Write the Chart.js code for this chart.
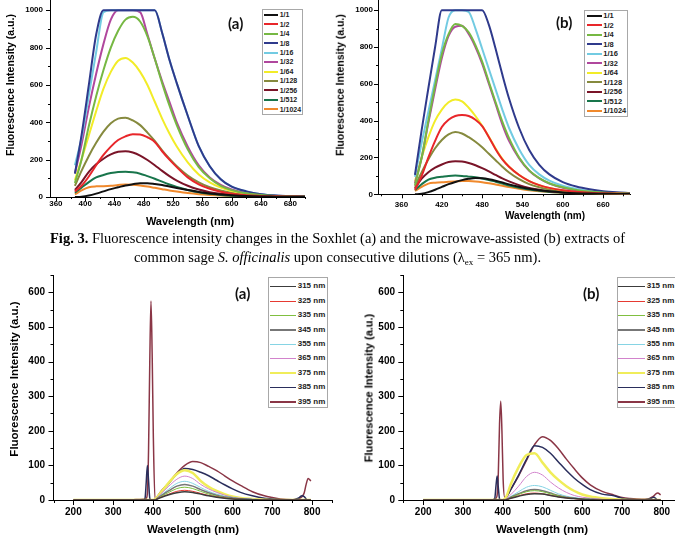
<!DOCTYPE html>
<html>
<head>
<meta charset="utf-8">
<script src="https://cdn.jsdelivr.net/npm/chart.js@4/dist/chart.umd.min.js"></script>
<style>
    html, body { margin: 0; padding: 0; background: #fff; }
    body { position: relative; width: 675px; height: 536px; overflow: hidden; font-family: 'Liberation Sans', Arial, sans-serif; }
    canvas, .legend, .panel, .caption, .axis-title { position: absolute; }
    .legend { border: 1px solid #a8a8a8; background: #fff; box-sizing: border-box; font-weight: bold; color: #222; overflow: hidden; }
    .legend .row { position: absolute; left: 0; white-space: nowrap; }
    .legend .swatch { position: absolute; }
    .legend .txt { position: absolute; top: 0; }
    .panel { font-family: Lato, 'Liberation Sans', sans-serif; font-weight: bold; font-size: 15px; line-height: 18px; color: #111; }
    .axis-title { font-weight: bold; color: #000; white-space: nowrap; line-height: 1; transform: translate(-50%, -50%); }
    .axis-title.vertical { transform: translate(-50%, -50%) rotate(-90deg); }
    .caption { left: 0; width: 675px; text-align: center; font-family: 'Liberation Serif', 'Times New Roman', serif; font-size: 14.5px; line-height: 19px; color: #000; }
    .caption sub { font-size: 9px; line-height: 0; vertical-align: -3px; }
</style>
</head>
<body>
<canvas id="chartSoxhlet" width="310" height="230" style="left:0;top:0"></canvas>
<canvas id="chartMicrowave" width="305" height="230" style="left:330px;top:0"></canvas>
<canvas id="chartSoxEx" width="340" height="270" style="left:0;top:270px"></canvas>
<canvas id="chartMwEx" width="340" height="270" style="left:350px;top:270px"></canvas>

<div class="legend" id="legendSoxhlet"></div>
<div class="legend" id="legendMicrowave"></div>
<div class="legend" id="legendSoxEx"></div>
<div class="legend" id="legendMwEx"></div>

<div class="panel" style="left:228px;top:14px">(a)</div>
<div class="panel" style="left:556px;top:13px">(b)</div>
<div class="panel" style="left:235px;top:284px">(a)</div>
<div class="panel" style="left:583px;top:284px">(b)</div>

<div class="axis-title" style="left:190px;top:221px;font-size:11px">Wavelength (nm)</div>
<div class="axis-title" style="left:545px;top:216px;font-size:10px">Wavelength (nm)</div>
<div class="axis-title vertical" style="left:10px;top:85px;font-size:10.5px">Fluorescence Intensity (a.u.)</div>
<div class="axis-title vertical" style="left:340px;top:85px;font-size:10.5px">Fluorescence Intensity (a.u.)</div>
<div class="axis-title" style="left:193px;top:530px;font-size:11.5px">Wavelength (nm)</div>
<div class="axis-title" style="left:542px;top:530px;font-size:11.5px">Wavelength (nm)</div>
<div class="axis-title vertical" style="left:15px;top:379px;font-size:11.5px">Fluorescence Intensity (a.u.)</div>
<div class="axis-title vertical" style="left:369px;top:388px;font-size:11px">Fluorescence Intensity (a.u.)</div>

<div class="caption" style="top:229px"><b>Fig. 3.</b> Fluorescence intensity changes in the Soxhlet (a) and the microwave-assisted (b) extracts of<br>common sage <i>S. officinalis</i> upon consecutive dilutions (&lambda;<sub>ex</sub> = 365 nm).</div>

<script>
// --- dilution series (top row) ---
const dilutionLabels = ['1/1', '1/2', '1/4', '1/8', '1/16', '1/32', '1/64', '1/128', '1/256', '1/512', '1/1024'];

const soxhletWavelength = [386, 395, 405, 415, 425, 435, 445, 455, 465, 475, 485, 495, 505, 515, 525, 540, 555, 570, 585, 600, 620, 640, 660, 680, 700];
const soxhlet1_1 = [0, 2, 8, 18, 30, 42, 52, 62, 68, 74, 74, 70, 64, 56, 48, 37, 27, 19, 13, 9, 5, 3, 2, 1, 1];
const soxhlet1_2 = [30, 60, 110, 170, 225, 270, 305, 325, 336, 335, 320, 295, 245, 200, 160, 105, 68, 44, 28, 18, 10, 6, 4, 3, 2];
const soxhlet1_4 = [75, 200, 380, 540, 680, 800, 890, 950, 965, 940, 860, 740, 610, 490, 385, 255, 160, 100, 60, 37, 20, 11, 6, 4, 3];
const soxhlet1_8 = [125, 330, 600, 870, 1000, 1000, 1000, 1000, 1000, 1000, 1000, 1000, 880, 735, 610, 435, 272, 165, 95, 55, 30, 15, 8, 5, 4];
const soxhlet1_16 = [170, 316, 545, 776, 990, 1000, 1000, 1000, 1000, 1000, 1000, 1000, 880, 735, 610, 435, 272, 165, 95, 55, 30, 15, 8, 5, 4];
const soxhlet1_32 = [127, 280, 480, 660, 820, 950, 1000, 1000, 1000, 990, 870, 740, 620, 510, 400, 270, 170, 105, 65, 40, 22, 12, 7, 4, 3];
const soxhlet1_64 = [90, 200, 330, 460, 580, 670, 730, 745, 720, 670, 600, 510, 420, 340, 270, 185, 120, 78, 50, 32, 18, 10, 6, 4, 3];
const soxhlet1_128 = [60, 140, 220, 290, 350, 395, 420, 425, 410, 385, 345, 300, 250, 205, 165, 115, 78, 52, 35, 23, 13, 8, 5, 3, 2];
const soxhlet1_256 = [38, 80, 135, 175, 205, 228, 242, 245, 238, 222, 198, 170, 140, 112, 88, 60, 40, 26, 17, 11, 6, 4, 3, 2, 2];
const soxhlet1_512 = [23, 50, 80, 105, 118, 128, 134, 135, 132, 125, 112, 98, 82, 67, 54, 38, 26, 17, 11, 7, 4, 3, 2, 2, 1];
const soxhlet1_1024 = [14, 35, 52, 57, 58, 60, 64, 67, 66, 62, 56, 49, 42, 35, 29, 21, 15, 11, 8, 6, 4, 3, 2, 2, 1];

const microwaveWavelength = [380, 390, 400, 410, 420, 430, 440, 450, 460, 470, 480, 490, 500, 510, 520, 535, 550, 565, 580, 600, 620, 640, 660, 680, 700];
const microwave1_1 = [0, 3, 12, 25, 40, 55, 67, 77, 84, 88, 87, 82, 74, 64, 54, 41, 30, 22, 16, 10, 6, 4, 3, 2, 1];
const microwave1_2 = [25, 100, 200, 290, 365, 405, 425, 430, 425, 405, 370, 310, 245, 190, 150, 105, 72, 50, 35, 22, 14, 9, 6, 4, 3];
const microwave1_4 = [50, 200, 400, 590, 760, 870, 925, 915, 880, 810, 720, 610, 500, 395, 305, 200, 130, 88, 60, 38, 24, 15, 10, 7, 5];
const microwave1_8 = [105, 350, 577, 800, 1000, 1000, 1000, 1000, 1000, 1000, 1000, 920, 790, 650, 520, 360, 240, 160, 108, 66, 42, 27, 17, 11, 7];
const microwave1_16 = [95, 280, 450, 620, 790, 960, 1000, 1000, 990, 900, 790, 680, 570, 460, 360, 245, 160, 108, 74, 46, 29, 18, 11, 7, 5];
const microwave1_32 = [60, 200, 390, 570, 740, 860, 910, 915, 870, 800, 710, 600, 490, 380, 290, 195, 128, 86, 58, 36, 23, 14, 9, 6, 4];
const microwave1_64 = [70, 200, 310, 400, 460, 500, 515, 505, 470, 425, 372, 312, 248, 192, 150, 105, 72, 50, 35, 22, 14, 9, 6, 4, 3];
const microwave1_128 = [42, 120, 190, 250, 295, 325, 338, 330, 310, 285, 255, 220, 185, 150, 118, 82, 55, 38, 26, 16, 10, 7, 5, 3, 2];
const microwave1_256 = [33, 85, 120, 145, 162, 175, 180, 178, 170, 158, 142, 124, 105, 86, 70, 50, 35, 25, 17, 11, 7, 5, 3, 2, 2];
const microwave1_512 = [24, 55, 80, 90, 95, 100, 102, 100, 96, 92, 86, 78, 68, 58, 48, 36, 26, 19, 13, 9, 6, 4, 3, 2, 1];
const microwave1_1024 = [18, 40, 58, 63, 66, 68, 70, 72, 72, 70, 66, 60, 53, 46, 39, 30, 22, 16, 12, 8, 5, 4, 3, 2, 1];

// --- excitation series (bottom row) ---
const excitationLabels = ['315 nm', '325 nm', '335 nm', '345 nm', '355 nm', '365 nm', '375 nm', '385 nm', '395 nm'];
const emissionWavelength = [200, 250, 300, 350, 375, 380, 383, 386, 389, 392, 395, 398, 401, 405, 410, 420, 440, 460, 480, 500, 520, 540, 560, 580, 600, 620, 650, 680, 700, 720, 750, 765, 775, 780, 785, 790, 797];

const soxEx315 = [0, 0, 0, 0, 0, 0, 0, 0, 0, 0, 0, 0, 0, 0, 2, 7, 15, 21, 24, 22, 17, 12, 8, 5, 3, 2, 1, 0, 0, 0, 0, 0, 0, 0, 0, 0, 0];
const soxEx325 = [0, 0, 0, 0, 0, 0, 0, 0, 0, 0, 0, 0, 0, 0, 3, 8, 17, 25, 28, 25, 19, 13, 9, 6, 3, 2, 1, 0, 0, 0, 0, 0, 0, 0, 0, 0, 0];
const soxEx335 = [0, 0, 0, 0, 0, 0, 0, 0, 0, 0, 0, 0, 0, 0, 3, 10, 22, 33, 37, 33, 25, 17, 11, 7, 4, 2, 1, 0, 0, 0, 0, 0, 0, 0, 0, 0, 0];
const soxEx345 = [0, 0, 0, 0, 0, 0, 0, 0, 0, 0, 0, 0, 0, 0, 4, 12, 27, 40, 45, 40, 30, 21, 14, 9, 6, 3, 1, 0, 0, 0, 0, 0, 0, 0, 0, 0, 0];
const soxEx355 = [0, 0, 0, 0, 0, 0, 0, 0, 0, 0, 0, 0, 0, 0, 5, 14, 32, 48, 54, 48, 36, 25, 17, 11, 7, 4, 2, 1, 0, 0, 0, 0, 0, 0, 0, 0, 0];
const soxEx365 = [0, 0, 0, 0, 0, 0, 0, 0, 0, 0, 0, 0, 0, 1, 6, 18, 40, 60, 69, 62, 45, 32, 22, 14, 8, 5, 2, 1, 0, 0, 0, 0, 0, 0, 0, 0, 0];
const soxEx375 = [0, 0, 0, 0, 0, 0, 0, 0, 0, 0, 0, 0, 0, 2, 8, 22, 50, 75, 86, 78, 55, 38, 26, 17, 10, 6, 3, 1, 0, 0, 0, 0, 0, 0, 0, 0, 0];
const soxEx385 = [0, 0, 0, 0, 0, 5, 50, 100, 55, 5, 0, 0, 0, 2, 8, 22, 48, 75, 91, 88, 80, 70, 57, 44, 32, 22, 12, 5, 3, 1, 0, 5, 12, 10, 3, 0, 0];
const soxEx395 = [0, 0, 0, 1, 2, 3, 5, 20, 150, 400, 575, 420, 180, 5, 8, 25, 50, 78, 100, 111, 108, 97, 85, 70, 55, 42, 24, 12, 7, 3, 1, 3, 10, 20, 45, 62, 55];

const mwEx315 = [0, 0, 0, 0, 0, 0, 0, 0, 0, 0, 0, 0, 0, 0, 1, 5, 11, 16, 18, 17, 13, 9, 6, 4, 2, 1, 0, 0, 0, 0, 0, 0, 0, 0, 0, 0, 0];
const mwEx325 = [0, 0, 0, 0, 0, 0, 0, 0, 0, 0, 0, 0, 0, 0, 2, 5, 12, 18, 20, 18, 14, 9, 6, 4, 2, 1, 0, 0, 0, 0, 0, 0, 0, 0, 0, 0, 0];
const mwEx335 = [0, 0, 0, 0, 0, 0, 0, 0, 0, 0, 0, 0, 0, 0, 2, 7, 16, 24, 27, 24, 18, 12, 7, 4, 3, 2, 1, 0, 0, 0, 0, 0, 0, 0, 0, 0, 0];
const mwEx345 = [0, 0, 0, 0, 0, 0, 0, 0, 0, 0, 0, 0, 0, 0, 2, 8, 18, 27, 30, 27, 20, 13, 8, 5, 3, 2, 1, 0, 0, 0, 0, 0, 0, 0, 0, 0, 0];
const mwEx355 = [0, 0, 0, 0, 0, 0, 0, 0, 0, 0, 0, 0, 0, 0, 3, 10, 24, 37, 42, 38, 28, 18, 11, 7, 4, 2, 1, 0, 0, 0, 0, 0, 0, 0, 0, 0, 0];
const mwEx365 = [0, 0, 0, 0, 0, 0, 0, 0, 0, 0, 0, 0, 0, 1, 5, 15, 40, 68, 80, 72, 52, 35, 22, 13, 8, 5, 2, 1, 0, 0, 0, 0, 0, 0, 0, 0, 0];
const mwEx375 = [0, 0, 0, 0, 0, 0, 0, 0, 0, 0, 0, 0, 0, 3, 12, 45, 95, 130, 135, 108, 80, 58, 40, 26, 16, 10, 5, 2, 1, 0, 0, 0, 0, 0, 0, 0, 0];
const mwEx385 = [0, 0, 0, 0, 0, 5, 40, 69, 35, 3, 0, 0, 0, 3, 10, 30, 72, 118, 157, 152, 135, 110, 85, 63, 45, 30, 17, 12, 5, 2, 0, 2, 6, 8, 4, 0, 0];
const mwEx395 = [0, 0, 0, 1, 1, 3, 5, 15, 80, 220, 285, 200, 60, 8, 10, 30, 70, 115, 160, 183, 172, 148, 118, 90, 64, 44, 25, 14, 7, 4, 2, 3, 8, 12, 18, 20, 15];

// --- tick labels ---
const soxhletXTicks = [360, 400, 440, 480, 520, 560, 600, 640, 680];
const microwaveXTicks = [360, 420, 480, 540, 600, 660];
const dilutionYTicks = [0, 200, 400, 600, 800, 1000];
const emissionXTicks = [200, 300, 400, 500, 600, 700, 800];
const emissionYTicks = [0, 100, 200, 300, 400, 500, 600];

const dilutionColors = ['#111111', '#e8262a', '#76b843', '#2f3a8c', '#72cbe2', '#b0479d', '#f2ec28', '#868a3e', '#7a1428', '#18754b', '#f0892c'];
const excitationColors = ['#3c3c3c', '#e63a32', '#80bf40', '#777777', '#86d4e4', '#d283cc', '#f0ed5a', '#2a2e5c', '#8a3646'];
const excitationWidths = [1.5, 1, 1, 1.5, 1, 1, 2.5, 1.5, 1.5];

// Origin-style outward major/minor tick marks
const originTicks = {
    id: 'originTicks',
    afterDraw(chart, args, opts) {
        const ctx = chart.ctx;
        ctx.save();
        ctx.strokeStyle = '#000';
        ctx.lineWidth = 1;
        ['x', 'y'].forEach(id => {
            const scale = chart.scales[id];
            const o = opts[id];
            const majors = scale.ticks.map(t => t.value);
            for (let v = o.start; v <= scale.max + 1e-6; v += o.step) {
                const len = majors.includes(v) ? o.major : o.minor;
                const p = Math.round(scale.getPixelForValue(v)) + 0.5;
                ctx.beginPath();
                if (id === 'x') {
                    ctx.moveTo(p, scale.top);
                    ctx.lineTo(p, scale.top + len);
                } else {
                    ctx.moveTo(scale.right, p);
                    ctx.lineTo(scale.right - len, p);
                }
                ctx.stroke();
            }
        });
        ctx.restore();
    }
};

function toPoints(wave, values) {
    return wave.map((w, i) => ({ x: w, y: values[i] }));
}

function makeDatasets(labels, wave, list, colors, widths) {
    return list.map((values, i) => ({
        label: labels[i],
        data: toPoints(wave, values),
        borderColor: colors[i],
        borderWidth: widths[i],
        pointRadius: 0,
        fill: false
    }));
}

function buildChart(id, cfg) {
    const boldFont = size => ({ family: "'Liberation Sans', Arial, sans-serif", weight: 'bold', size: size });
    return new Chart(document.getElementById(id), {
        type: 'line',
        data: { datasets: cfg.datasets },
        options: {
            responsive: false,
            animation: false,
            events: [],
            layout: { autoPadding: false, padding: { top: cfg.padTop, right: cfg.padRight, bottom: 0, left: 0 } },
            elements: { line: { tension: 0.4, cubicInterpolationMode: 'monotone' }, point: { radius: 0 } },
            plugins: {
                legend: { display: false },
                tooltip: { enabled: false },
                originTicks: cfg.marks
            },
            scales: {
                x: {
                    type: 'linear',
                    min: cfg.xMin,
                    max: cfg.xMax,
                    grid: { display: false, drawTicks: false },
                    border: { display: true, color: '#000', width: 1 },
                    afterBuildTicks: s => { s.ticks = cfg.xTicks.map(v => ({ value: v })); },
                    afterFit: s => { s.height = cfg.xHeight; s.paddingLeft = 0; s.paddingRight = 0; },
                    ticks: { color: '#000', font: boldFont(cfg.tickSize), padding: cfg.xTickPad, maxRotation: 0, autoSkip: false, callback: v => String(v) },
                    title: { display: false }
                },
                y: {
                    type: 'linear',
                    min: 0,
                    max: cfg.yMax,
                    grid: { display: false, drawTicks: false },
                    border: { display: true, color: '#000', width: 1 },
                    afterBuildTicks: s => { s.ticks = cfg.yTicks.map(v => ({ value: v })); },
                    afterFit: s => { s.width = cfg.yWidth; s.paddingTop = 0; s.paddingBottom = 0; },
                    ticks: { color: '#000', font: boldFont(cfg.tickSize), padding: cfg.yTickPad, autoSkip: false, callback: v => String(v) },
                    title: { display: false }
                }
            }
        },
        plugins: [originTicks]
    });
}

function buildLegend(chart, elId, L) {
    const box = document.getElementById(elId);
    box.style.left = L.left + 'px';
    box.style.top = L.top + 'px';
    box.style.width = L.width + 'px';
    box.style.height = L.height + 'px';
    box.style.fontSize = L.fontSize + 'px';
    chart.data.datasets.forEach((ds, i) => {
        const row = document.createElement('div');
        row.className = 'row';
        row.style.top = (L.padTop + i * L.rowH) + 'px';
        row.style.height = L.rowH + 'px';
        row.style.width = '100%';
        const sw = document.createElement('span');
        sw.className = 'swatch';
        sw.style.left = L.lineX + 'px';
        sw.style.width = L.lineW + 'px';
        sw.style.height = ds.borderWidth + 'px';
        sw.style.top = (L.rowH / 2 - ds.borderWidth / 2) + 'px';
        sw.style.background = ds.borderColor;
        const tx = document.createElement('span');
        tx.className = 'txt';
        tx.style.left = L.textX + 'px';
        tx.style.lineHeight = L.rowH + 'px';
        tx.textContent = ds.label;
        row.appendChild(sw);
        row.appendChild(tx);
        box.appendChild(row);
    });
}

const topWidths = dilutionLabels.map(() => 2);

const chartSoxhlet = buildChart('chartSoxhlet', {
    datasets: makeDatasets(dilutionLabels, soxhletWavelength,
        [soxhlet1_1, soxhlet1_2, soxhlet1_4, soxhlet1_8, soxhlet1_16, soxhlet1_32, soxhlet1_64, soxhlet1_128, soxhlet1_256, soxhlet1_512, soxhlet1_1024],
        dilutionColors, topWidths),
    xMin: 352, xMax: 700, yMax: 1055,
    xTicks: soxhletXTicks, yTicks: dilutionYTicks,
    padTop: 0, padRight: 5, yWidth: 50, xHeight: 33,
    tickSize: 8, xTickPad: 2, yTickPad: 7,
    marks: { x: { start: 360, step: 20, major: 4, minor: 2 }, y: { start: 0, step: 100, major: 4, minor: 2 } }
});

const chartMicrowave = buildChart('chartMicrowave', {
    datasets: makeDatasets(dilutionLabels, microwaveWavelength,
        [microwave1_1, microwave1_2, microwave1_4, microwave1_8, microwave1_16, microwave1_32, microwave1_64, microwave1_128, microwave1_256, microwave1_512, microwave1_1024],
        dilutionColors, topWidths),
    xMin: 325, xMax: 700, yMax: 1055,
    xTicks: microwaveXTicks, yTicks: dilutionYTicks,
    padTop: 0, padRight: 5, yWidth: 48, xHeight: 35.7,
    tickSize: 8, xTickPad: 6, yTickPad: 5,
    marks: { x: { start: 330, step: 30, major: 4, minor: 2 }, y: { start: 0, step: 100, major: 4, minor: 2 } }
});

const chartSoxEx = buildChart('chartSoxEx', {
    datasets: makeDatasets(excitationLabels, emissionWavelength,
        [soxEx315, soxEx325, soxEx335, soxEx345, soxEx355, soxEx365, soxEx375, soxEx385, soxEx395],
        excitationColors, excitationWidths),
    xMin: 150, xMax: 850, yMax: 650,
    xTicks: emissionXTicks, yTicks: emissionYTicks,
    padTop: 5, padRight: 8, yWidth: 53.5, xHeight: 40,
    tickSize: 10, xTickPad: 6, yTickPad: 8.5,
    marks: { x: { start: 150, step: 50, major: 5, minor: 3 }, y: { start: 0, step: 50, major: 5, minor: 3 } }
});

const chartMwEx = buildChart('chartMwEx', {
    datasets: makeDatasets(excitationLabels, emissionWavelength,
        [mwEx315, mwEx325, mwEx335, mwEx345, mwEx355, mwEx365, mwEx375, mwEx385, mwEx395],
        excitationColors, excitationWidths),
    xMin: 150, xMax: 850, yMax: 650,
    xTicks: emissionXTicks, yTicks: emissionYTicks,
    padTop: 5, padRight: 8.3, yWidth: 53.3, xHeight: 40,
    tickSize: 10, xTickPad: 6, yTickPad: 8.3,
    marks: { x: { start: 150, step: 50, major: 5, minor: 3 }, y: { start: 0, step: 50, major: 5, minor: 3 } }
});

buildLegend(chartSoxhlet, 'legendSoxhlet', { left: 261.7, top: 9.3, width: 41.6, height: 105.7, padTop: 0, rowH: 9.43, lineX: 1.3, lineW: 14, textX: 17, fontSize: 7 });
buildLegend(chartMicrowave, 'legendMicrowave', { left: 584.3, top: 10, width: 44, height: 106.5, padTop: 0, rowH: 9.5, lineX: 1.4, lineW: 15, textX: 18, fontSize: 7.5 });
buildLegend(chartSoxEx, 'legendSoxEx', { left: 267.7, top: 276.7, width: 60, height: 131, padTop: 1.8, rowH: 14.4, lineX: 1.3, lineW: 26, textX: 29, fontSize: 8 });
buildLegend(chartMwEx, 'legendMwEx', { left: 616.7, top: 276.7, width: 62, height: 131, padTop: 1.8, rowH: 14.4, lineX: 0.3, lineW: 27, textX: 29, fontSize: 8 });
</script>
</body>
</html>
